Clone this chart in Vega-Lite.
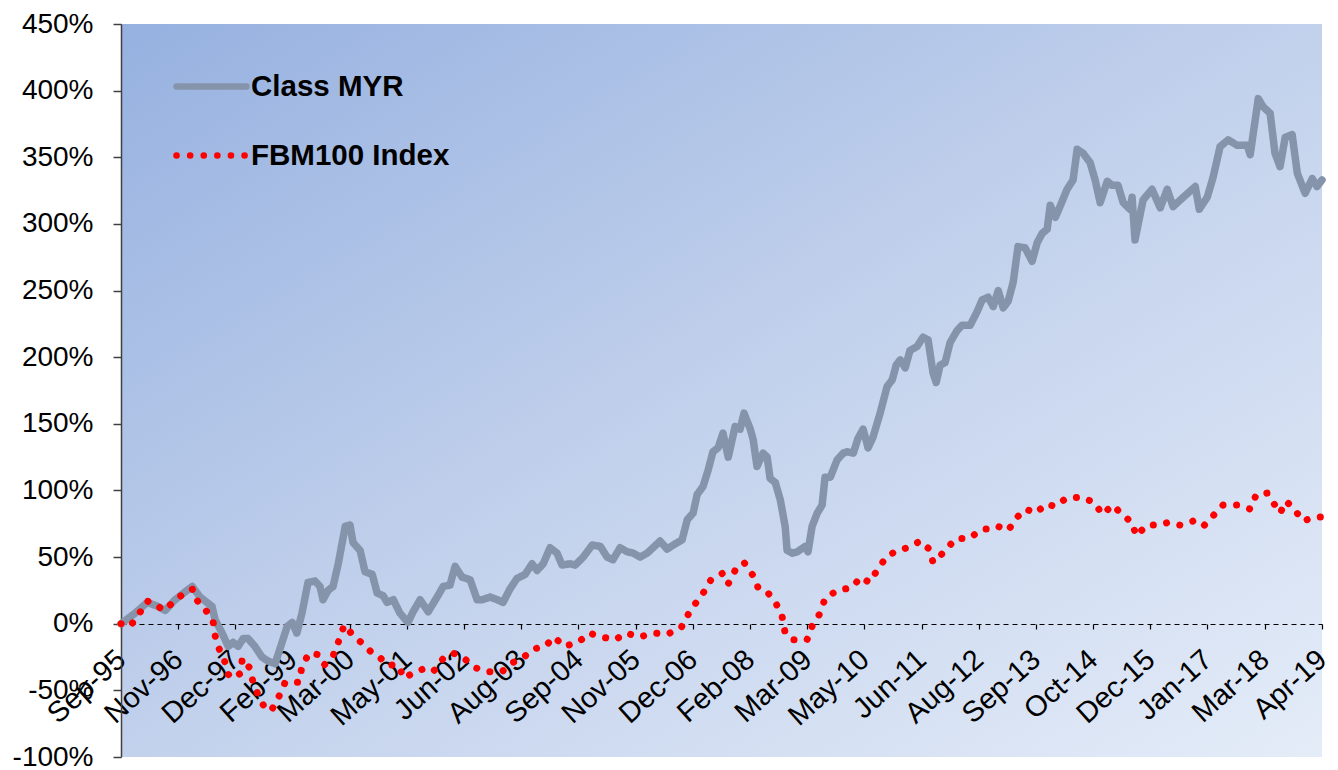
{
"$schema": "https://vega.github.io/schema/vega-lite/v6.json",
"width": 1201, "height": 733,
"autosize": {"type": "none"},
"padding": {"left": 121, "top": 24, "right": 16, "bottom": 13},
"background": "white",
"config": {
  "font": "Liberation Sans",
  "view": {"stroke": null, "fill": {"gradient": "linear", "x1": 0, "y1": 0, "x2": 1, "y2": 1, "stops": [{"offset": 0, "color": "#96b1e0"}, {"offset": 0.5, "color": "#c2d1ec"}, {"offset": 1, "color": "#e4ecf8"}]}}
},
"datasets": {
"myr": [
{"date":"1995-09-30","value":0},{"date":"1996-01-10","value":8},{"date":"1996-04-05","value":16},{"date":"1996-06-22","value":13},{"date":"1996-08-12","value":10},{"date":"1996-10-22","value":18},{"date":"1997-01-03","value":24},{"date":"1997-02-22","value":28},{"date":"1997-04-19","value":20},{"date":"1997-07-14","value":13},{"date":"1997-08-05","value":3},{"date":"1997-09-24","value":-7},{"date":"1997-11-07","value":-17},{"date":"1997-12-12","value":-14},{"date":"1998-01-17","value":-17},{"date":"1998-02-23","value":-11},{"date":"1998-03-28","value":-11},{"date":"1998-05-17","value":-17},{"date":"1998-07-07","value":-25},{"date":"1998-08-19","value":-28},{"date":"1998-10-09","value":-30},{"date":"1998-11-28","value":-14},{"date":"1999-01-04","value":-2},{"date":"1999-02-09","value":1},{"date":"1999-03-14","value":-7},{"date":"1999-04-20","value":8},{"date":"1999-06-02","value":31},{"date":"1999-07-22","value":32},{"date":"1999-08-27","value":28},{"date":"1999-09-18","value":18},{"date":"1999-10-24","value":25},{"date":"1999-11-29","value":28},{"date":"2000-01-05","value":45},{"date":"2000-02-24","value":73},{"date":"2000-03-29","value":74},{"date":"2000-04-20","value":61},{"date":"2000-06-10","value":55},{"date":"2000-07-15","value":39},{"date":"2000-09-05","value":37},{"date":"2000-10-10","value":23},{"date":"2000-11-22","value":21},{"date":"2000-12-20","value":16},{"date":"2001-02-03","value":18},{"date":"2001-03-22","value":8},{"date":"2001-05-19","value":1},{"date":"2001-06-25","value":9},{"date":"2001-08-14","value":18},{"date":"2001-10-11","value":9},{"date":"2001-12-14","value":20},{"date":"2002-01-27","value":28},{"date":"2002-03-16","value":29},{"date":"2002-04-22","value":43},{"date":"2002-06-11","value":35},{"date":"2002-08-08","value":33},{"date":"2002-09-27","value":18},{"date":"2002-11-02","value":18},{"date":"2002-12-29","value":20},{"date":"2003-02-19","value":18},{"date":"2003-04-01","value":16},{"date":"2003-05-20","value":26},{"date":"2003-07-10","value":34},{"date":"2003-09-06","value":37},{"date":"2003-10-26","value":45},{"date":"2003-12-01","value":40},{"date":"2004-01-14","value":45},{"date":"2004-03-03","value":57},{"date":"2004-04-22","value":53},{"date":"2004-05-28","value":44},{"date":"2004-07-25","value":45},{"date":"2004-08-30","value":44},{"date":"2004-10-27","value":50},{"date":"2004-12-30","value":59},{"date":"2005-02-27","value":58},{"date":"2005-04-16","value":50},{"date":"2005-05-28","value":48},{"date":"2005-07-18","value":57},{"date":"2005-09-08","value":54},{"date":"2005-10-20","value":53},{"date":"2005-12-09","value":50},{"date":"2006-01-29","value":53},{"date":"2006-03-11","value":57},{"date":"2006-05-01","value":62},{"date":"2006-06-20","value":56},{"date":"2006-08-03","value":59},{"date":"2006-10-06","value":63},{"date":"2006-11-12","value":78},{"date":"2006-12-24","value":83},{"date":"2007-01-22","value":97},{"date":"2007-03-05","value":103},{"date":"2007-04-10","value":115},{"date":"2007-05-15","value":129},{"date":"2007-06-21","value":132},{"date":"2007-07-26","value":143},{"date":"2007-09-02","value":125},{"date":"2007-10-21","value":148},{"date":"2007-11-26","value":146},{"date":"2007-12-24","value":158},{"date":"2008-02-07","value":146},{"date":"2008-02-28","value":138},{"date":"2008-03-26","value":118},{"date":"2008-05-09","value":128},{"date":"2008-06-07","value":125},{"date":"2008-06-28","value":109},{"date":"2008-08-04","value":106},{"date":"2008-09-09","value":93},{"date":"2008-10-14","value":73},{"date":"2008-10-28","value":55},{"date":"2008-12-04","value":53},{"date":"2009-01-09","value":54},{"date":"2009-03-06","value":58},{"date":"2009-03-27","value":54},{"date":"2009-04-25","value":73},{"date":"2009-06-01","value":83},{"date":"2009-07-06","value":89},{"date":"2009-07-27","value":110},{"date":"2009-09-03","value":110},{"date":"2009-10-22","value":123},{"date":"2009-12-04","value":128},{"date":"2010-01-03","value":129},{"date":"2010-02-15","value":128},{"date":"2010-03-20","value":139},{"date":"2010-04-26","value":146},{"date":"2010-06-01","value":132},{"date":"2010-07-06","value":140},{"date":"2010-08-26","value":158},{"date":"2010-10-15","value":178},{"date":"2010-11-21","value":183},{"date":"2010-12-19","value":194},{"date":"2011-01-17","value":198},{"date":"2011-02-22","value":192},{"date":"2011-03-28","value":205},{"date":"2011-05-18","value":208},{"date":"2011-06-30","value":215},{"date":"2011-08-05","value":213},{"date":"2011-09-10","value":188},{"date":"2011-10-02","value":181},{"date":"2011-10-30","value":194},{"date":"2011-12-05","value":196},{"date":"2012-01-10","value":211},{"date":"2012-02-29","value":220},{"date":"2012-04-05","value":224},{"date":"2012-06-02","value":224},{"date":"2012-07-21","value":234},{"date":"2012-08-27","value":243},{"date":"2012-10-09","value":245},{"date":"2012-11-14","value":238},{"date":"2012-12-20","value":250},{"date":"2013-01-25","value":237},{"date":"2013-03-01","value":242},{"date":"2013-04-06","value":256},{"date":"2013-05-11","value":283},{"date":"2013-07-01","value":282},{"date":"2013-08-20","value":272},{"date":"2013-09-26","value":286},{"date":"2013-11-01","value":293},{"date":"2013-12-06","value":296},{"date":"2013-12-28","value":314},{"date":"2014-02-03","value":305},{"date":"2014-03-08","value":313},{"date":"2014-04-28","value":326},{"date":"2014-06-10","value":333},{"date":"2014-07-09","value":356},{"date":"2014-08-21","value":353},{"date":"2014-10-10","value":346},{"date":"2014-11-15","value":333},{"date":"2014-12-21","value":316},{"date":"2015-02-10","value":332},{"date":"2015-03-16","value":329},{"date":"2015-04-28","value":329},{"date":"2015-06-04","value":316},{"date":"2015-07-23","value":311},{"date":"2015-08-07","value":320},{"date":"2015-08-28","value":288},{"date":"2015-10-25","value":318},{"date":"2015-12-28","value":326},{"date":"2016-02-25","value":312},{"date":"2016-04-15","value":326},{"date":"2016-05-27","value":313},{"date":"2016-08-08","value":320},{"date":"2016-11-02","value":328},{"date":"2016-12-01","value":311},{"date":"2017-01-27","value":320},{"date":"2017-03-10","value":335},{"date":"2017-04-29","value":358},{"date":"2017-06-26","value":363},{"date":"2017-08-29","value":359},{"date":"2017-11-10","value":359},{"date":"2017-12-01","value":352},{"date":"2018-01-28","value":394},{"date":"2018-03-03","value":388},{"date":"2018-04-23","value":383},{"date":"2018-05-28","value":353},{"date":"2018-07-03","value":343},{"date":"2018-08-09","value":365},{"date":"2018-09-28","value":367},{"date":"2018-11-04","value":338},{"date":"2018-12-30","value":323},{"date":"2019-02-19","value":334},{"date":"2019-03-25","value":328},{"date":"2019-04-30","value":333}
],
"fbm": [
{"date":"1995-09-30","value":0},{"date":"1995-12-04","value":-2},{"date":"1996-02-04","value":7},{"date":"1996-04-05","value":17},{"date":"1996-06-01","value":15},{"date":"1996-07-28","value":10},{"date":"1996-10-22","value":17},{"date":"1997-01-03","value":24},{"date":"1997-02-28","value":26},{"date":"1997-04-05","value":16},{"date":"1997-05-25","value":11},{"date":"1997-07-21","value":2},{"date":"1997-08-05","value":-9},{"date":"1997-08-30","value":-18},{"date":"1997-10-09","value":-27},{"date":"1997-11-07","value":-38},{"date":"1997-12-12","value":-41},{"date":"1998-02-05","value":-37},{"date":"1998-02-16","value":-26},{"date":"1998-04-09","value":-33},{"date":"1998-05-04","value":-44},{"date":"1998-06-16","value":-55},{"date":"1998-08-06","value":-65},{"date":"1998-09-18","value":-64},{"date":"1998-11-08","value":-54},{"date":"1998-12-20","value":-44},{"date":"1999-02-16","value":-44},{"date":"1999-03-29","value":-44},{"date":"1999-04-20","value":-32},{"date":"1999-06-10","value":-22},{"date":"1999-08-06","value":-23},{"date":"1999-09-26","value":-31},{"date":"1999-11-29","value":-24},{"date":"2000-01-05","value":-14},{"date":"2000-02-17","value":-1},{"date":"2000-04-14","value":-8},{"date":"2000-06-17","value":-14},{"date":"2000-09-05","value":-22},{"date":"2000-10-18","value":-24},{"date":"2000-12-20","value":-31},{"date":"2001-03-09","value":-31},{"date":"2001-04-21","value":-41},{"date":"2001-07-09","value":-36},{"date":"2001-09-06","value":-34},{"date":"2001-11-16","value":-36},{"date":"2002-01-27","value":-26},{"date":"2002-04-07","value":-22},{"date":"2002-06-25","value":-26},{"date":"2002-09-13","value":-33},{"date":"2002-12-08","value":-36},{"date":"2003-03-24","value":-36},{"date":"2003-06-12","value":-29},{"date":"2003-08-29","value":-25},{"date":"2003-11-03","value":-19},{"date":"2004-01-28","value":-17},{"date":"2004-04-01","value":-10},{"date":"2004-06-12","value":-17},{"date":"2004-09-21","value":-14},{"date":"2004-12-09","value":-7},{"date":"2005-03-11","value":-10},{"date":"2005-06-13","value":-12},{"date":"2005-08-30","value":-7},{"date":"2005-12-02","value":-10},{"date":"2006-03-18","value":-7},{"date":"2006-06-20","value":-8},{"date":"2006-09-29","value":-3},{"date":"2006-11-19","value":7},{"date":"2007-01-15","value":16},{"date":"2007-03-12","value":24},{"date":"2007-05-01","value":33},{"date":"2007-07-26","value":38},{"date":"2007-09-02","value":30},{"date":"2007-10-21","value":40},{"date":"2007-12-24","value":46},{"date":"2008-02-28","value":36},{"date":"2008-04-03","value":27},{"date":"2008-06-07","value":24},{"date":"2008-08-11","value":15},{"date":"2008-09-23","value":5},{"date":"2008-10-14","value":-7},{"date":"2008-12-11","value":-12},{"date":"2009-03-20","value":-12},{"date":"2009-04-25","value":-2},{"date":"2009-06-22","value":8},{"date":"2009-07-27","value":19},{"date":"2009-10-22","value":25},{"date":"2010-02-01","value":27},{"date":"2010-04-12","value":35},{"date":"2010-06-08","value":31},{"date":"2010-08-05","value":40},{"date":"2010-10-08","value":50},{"date":"2010-12-26","value":55},{"date":"2011-03-14","value":57},{"date":"2011-06-09","value":62},{"date":"2011-08-13","value":56},{"date":"2011-09-10","value":46},{"date":"2011-10-23","value":50},{"date":"2011-12-13","value":56},{"date":"2012-02-23","value":64},{"date":"2012-05-25","value":64},{"date":"2012-08-27","value":71},{"date":"2012-11-08","value":71},{"date":"2012-12-20","value":73},{"date":"2013-03-01","value":70},{"date":"2013-05-05","value":80},{"date":"2013-07-08","value":86},{"date":"2013-09-12","value":83},{"date":"2013-12-06","value":90},{"date":"2014-01-26","value":88},{"date":"2014-04-21","value":94},{"date":"2014-08-07","value":95},{"date":"2014-11-09","value":91},{"date":"2015-01-05","value":82},{"date":"2015-03-23","value":89},{"date":"2015-05-26","value":82},{"date":"2015-08-07","value":76},{"date":"2015-09-05","value":66},{"date":"2015-11-23","value":74},{"date":"2016-02-18","value":74},{"date":"2016-04-22","value":76},{"date":"2016-07-16","value":74},{"date":"2016-10-18","value":77},{"date":"2016-12-29","value":73},{"date":"2017-03-10","value":81},{"date":"2017-05-20","value":89},{"date":"2017-09-07","value":89},{"date":"2017-12-01","value":86},{"date":"2018-01-14","value":97},{"date":"2018-04-01","value":98},{"date":"2018-05-21","value":90},{"date":"2018-07-03","value":83},{"date":"2018-08-16","value":92},{"date":"2018-10-12","value":86},{"date":"2018-12-16","value":77},{"date":"2019-03-04","value":80},{"date":"2019-04-30","value":80}
]
},
"data": {"name": "myr"},
"layer": [
{
  "data": {"name": "myr"},
  "transform": [{"calculate": "'Class MYR'", "as": "series"}],
  "mark": {"type": "line", "strokeWidth": 7.5, "strokeCap": "round", "strokeJoin": "round"},
  "encoding": {}
},
{
  "data": {"name": "fbm"},
  "transform": [{"calculate": "'FBM100 Index'", "as": "series"}],
  "mark": {"type": "line", "strokeWidth": 7, "strokeCap": "round", "strokeJoin": "round"},
  "encoding": {}
}
],
"encoding": {
  "x": {"field": "date", "type": "temporal",
    "scale": {"type": "utc", "domain": [{"year": 1995, "month": 9, "date": 30, "utc": true}, {"year": 2019, "month": 4, "date": 30, "utc": true}]},
    "axis": {"orient": "bottom", "offset": -133, "title": null, "grid": false,
      "values": [
        {"year":1995,"month":9,"date":30,"utc":true},{"year":1996,"month":11,"date":13,"utc":true},{"year":1997,"month":12,"date":28,"utc":true},{"year":1999,"month":2,"date":11,"utc":true},{"year":2000,"month":3,"date":28,"utc":true},{"year":2001,"month":5,"date":11,"utc":true},{"year":2002,"month":6,"date":25,"utc":true},{"year":2003,"month":8,"date":9,"utc":true},{"year":2004,"month":9,"date":22,"utc":true},{"year":2005,"month":11,"date":6,"utc":true},{"year":2006,"month":12,"date":21,"utc":true},{"year":2008,"month":2,"date":4,"utc":true},{"year":2009,"month":3,"date":21,"utc":true},{"year":2010,"month":5,"date":5,"utc":true},{"year":2011,"month":6,"date":19,"utc":true},{"year":2012,"month":8,"date":2,"utc":true},{"year":2013,"month":9,"date":15,"utc":true},{"year":2014,"month":10,"date":30,"utc":true},{"year":2015,"month":12,"date":15,"utc":true},{"year":2017,"month":1,"date":28,"utc":true},{"year":2018,"month":3,"date":14,"utc":true},{"year":2019,"month":4,"date":30,"utc":true}
      ],
      "labelExpr": "utcFormat(datum.value, '%b-%y')",
      "labelAngle": -42, "labelAlign": "right", "labelBaseline": "middle",
      "labelFontSize": 29, "labelColor": "#000000", "labelPadding": 26,
      "labelOverlap": false, "labelBound": false, "labelFlush": false,
      "domainColor": "#000000", "domainDash": [5, 4], "domainWidth": 1.2,
      "tickColor": "#000000", "tickSize": 5, "tickWidth": 1.2, "zindex": 0}
  },
  "y": {"field": "value", "type": "quantitative",
    "scale": {"domain": [-100, 450], "nice": false, "zero": false},
    "axis": {"title": null, "grid": false, "values": [-100, -50, 0, 50, 100, 150, 200, 250, 300, 350, 400, 450],
      "labelExpr": "datum.value + '%'", "labelFontSize": 28, "labelColor": "#000000", "labelPadding": 20,
      "tickSize": 8, "tickColor": "#404040", "tickWidth": 1.5, "domainColor": "#404040", "domainWidth": 1.5}
  },
  "color": {"field": "series", "type": "nominal",
    "scale": {"domain": ["Class MYR", "FBM100 Index"], "range": ["#8594aa", "#ff0000"]},
    "legend": {"title": null, "orient": "none", "legendX": 52, "legendY": 24, "padding": 0,
      "symbolType": "stroke", "symbolSize": 4900, "symbolStrokeWidth": 6.5,
      "labelFontSize": 29.5, "labelFontWeight": "bold", "labelColor": "#000000", "labelOffset": 1, "labelLimit": 0, "rowPadding": 16,
      "encode": {"symbols": {"update": {"strokeCap": {"value": "round"}}}}}
  },
  "strokeDash": {"field": "series", "type": "nominal",
    "scale": {"domain": ["Class MYR", "FBM100 Index"], "range": [[1, 0], [0.1, 13.5]]},
    "legend": {"title": null, "orient": "none", "legendX": 52, "legendY": 24, "padding": 0,
      "symbolType": "stroke", "symbolSize": 4900, "symbolStrokeWidth": 6.5,
      "labelFontSize": 29.5, "labelFontWeight": "bold", "labelColor": "#000000", "labelOffset": 1, "labelLimit": 0, "rowPadding": 16,
      "encode": {"symbols": {"update": {"strokeCap": {"value": "round"}}}}}
  }
}
}
